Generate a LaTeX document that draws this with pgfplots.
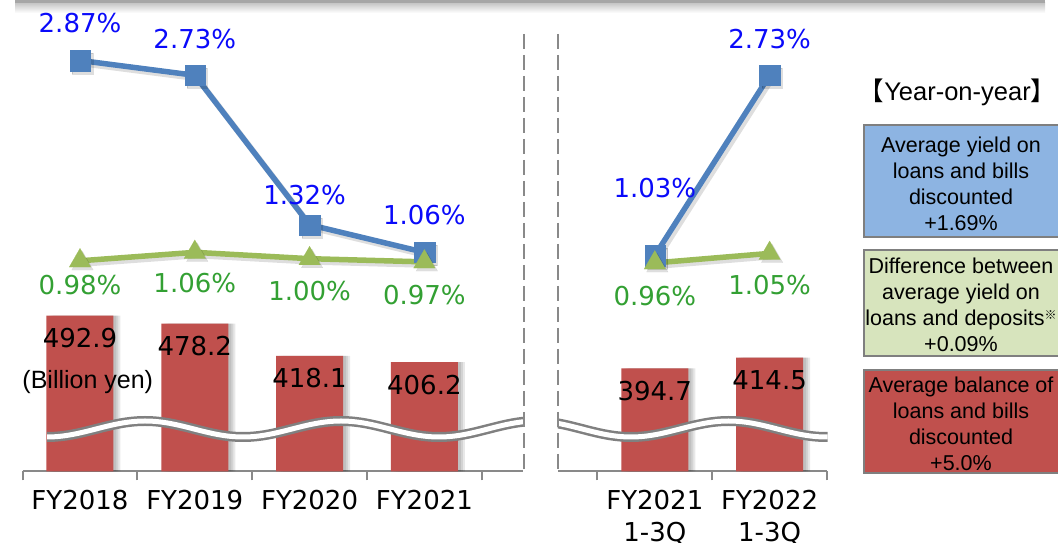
\documentclass[border=0pt]{standalone}
\usepackage{fontspec}
\setmainfont{Liberation Sans}
\newfontfamily\dv{DejaVu Sans}
\newfontfamily\cjk{Noto Sans CJK JP}
\usepackage{pgfplots}
\pgfplotsset{compat=1.18}
\usepackage{pgfplotstable}

\definecolor{barred}{HTML}{C0504D}
\definecolor{lineblue}{HTML}{4F81BD}
\definecolor{linegreen}{HTML}{9BBB59}
\definecolor{labblue}{HTML}{0A0AFA}
\definecolor{labgreen}{HTML}{33A033}
\definecolor{boxblue}{HTML}{8DB4E2}
\definecolor{boxgreen}{HTML}{D7E4BD}
\definecolor{axgray}{HTML}{898989}
\definecolor{wavegray}{HTML}{808080}
\definecolor{boxborder}{HTML}{7F7F7F}

\newcommand\lblfont{\dv\fontsize{26}{32}\selectfont}
\newcommand\boxfont{\fontsize{21.5}{25.8}\selectfont}

\pgfplotstableread{
x val
0 492.9
1 478.2
2 418.1
3 406.2
}\barsL
\pgfplotstableread{
x val
0 394.7
1 414.5
}\barsR
\pgfplotstableread{
x val dx dy
0 2.87 0 37
1 2.73 0 36.7
2 1.32 -5 29.3
3 1.06 0 37.3
}\blueL
\pgfplotstableread{
x val dx dy
0 1.03 0 67
1 2.73 0 36.7
}\blueR
\pgfplotstableread{
x val dx dy
0 0.98 0 -24
1 1.06 0 -31
2 1.00 0 -32
3 0.97 0 -33
}\greenL
\pgfplotstableread{
x val dx dy
0 0.96 0 -33
1 1.05 0 -31.6
}\greenR

\pgfplotsset{
  barpanel/.style={
    scale only axis, anchor=south west, height=438.5pt,
    ymin=202, ymax=1020.7,
    axis x line*=bottom, axis y line=none,
    x axis line style={draw=axgray, line width=2pt},
    major tick length=0pt, minor tick length=9pt,
    xtick align=outside,
    minor tick style={draw=axgray, line width=2pt},
    xticklabel style={font=\lblfont, anchor=north, inner sep=0pt, yshift=-19pt, align=center, text=black},
    ybar, bar width=67pt,
  },
  barlab/.style={
    nodes near coords={\pgfmathprintnumber[fixed,fixed zerofill,precision=1,assume math mode=true]{\pgfplotspointmeta}},
    every node near coord/.append style={font=\lblfont, anchor=center, inner sep=0pt, yshift=-22.5pt, text=black},
  },
  barshadow/.style={fill=black, draw=none, opacity=0.09, bar shift=#1, forget plot},
  linepanel/.style={
    scale only axis, anchor=south west, height=438.5pt,
    ymin=-1.0075, ymax=3.129, hide axis, clip=false,
  },
  pctlab/.style={
    nodes near coords={\pgfmathprintnumber[fixed,fixed zerofill,precision=2,assume math mode=true]{\pgfplotspointmeta}\%},
    point meta=y,
    visualization depends on={\thisrow{dx}\as\labdx},
    visualization depends on={\thisrow{dy}\as\labdy},
    every node near coord/.append style={font=\lblfont, anchor=center, inner sep=0pt, xshift=\labdx pt, yshift=\labdy pt, text=#1},
  },
  blueline/.style={lineblue, line width=5.5pt, mark=square*, mark size=10.2pt, mark options={line width=0.1pt, fill=lineblue, draw=lineblue}},
  greenline/.style={linegreen, line width=5.5pt, mark=triangle*, mark size=12.5pt, mark options={line width=0.1pt, fill=linegreen, draw=linegreen}},
  shadowline/.style={black, opacity=0.13, line width=6pt, xshift=2.5pt, yshift=-3pt, forget plot, mark options={fill=black, draw=black, line width=0.1pt}},
}

\begin{document}
\begin{tikzpicture}
\useasboundingbox (0,0) rectangle (1058pt,543pt);

% top strip (bottom edge of box above)
\begin{scope}[x=1pt,y=1pt]
\shade[top color=gray!45, bottom color=white] (15,530) rectangle (1045,540);
\fill[gray!70] (15,539.5) rectangle (1045,543);
\end{scope}

% ---------- left panel bars
\begin{axis}[barpanel, at={(22.6pt,71.5pt)}, width=500.5pt,
  xmin=-0.5, xmax=3.86,
  xtick={0,1,2,3}, xticklabels={FY2018,FY2019,FY2020,FY2021},
  minor xtick={-0.5,0.5,1.5,2.5,3.5}]
\addplot[barshadow=3pt] table[x=x,y=val]{\barsL};
\addplot[barshadow=5pt] table[x=x,y=val]{\barsL};
\addplot[barshadow=7pt] table[x=x,y=val]{\barsL};
\addplot[fill=barred, draw=none, barlab, bar shift=0pt] table[x=x,y=val]{\barsL};
\end{axis}

% ---------- right panel bars
\begin{axis}[barpanel, at={(558.4pt,71.5pt)}, width=268.6pt,
  xmin=-0.84, xmax=1.5,
  xtick={0,1}, xticklabels={{FY2021\\1-3Q},{FY2022\\1-3Q}},
  minor xtick={-0.5,0.5,1.5}]
\addplot[barshadow=3pt] table[x=x,y=val]{\barsR};
\addplot[barshadow=5pt] table[x=x,y=val]{\barsR};
\addplot[barshadow=7pt] table[x=x,y=val]{\barsR};
\addplot[fill=barred, draw=none, barlab, bar shift=0pt] table[x=x,y=val]{\barsR};
\end{axis}

% ---------- decorations: waves, dashed separators, unit label
\begin{scope}[x=1pt,y=1pt]
  \begin{scope}
    \clip (47,0) rectangle (523.6,543);
    \draw[wavegray, line width=2.5, double=white, double distance=5]
      (47,106) cos (96,114) sin (145,122) cos (194,114) sin (243,106) cos (292,114)
      sin (341,122) cos (390,114) sin (439,106) cos (488,114) sin (537,122);
  \end{scope}
  \begin{scope}
    \clip (557.7,0) rectangle (827.5,543);
    \draw[wavegray, line width=2.5, double=white, double distance=5]
      (533.4,122) cos (582.2,114) sin (631,106) cos (679.8,114) sin (728.6,122)
      cos (777.4,114) sin (826.2,106) cos (875,114);
  \end{scope}
  \draw[axgray, line width=2, dash pattern=on 15 off 6] (523.5,509) -- (523.5,71.5);
  \draw[axgray, line width=2, dash pattern=on 15 off 6] (557.7,509) -- (557.7,71.5);
  \node[font=\fontsize{25}{30}\selectfont, inner sep=0pt, anchor=center] at (87.8,161.3) {(Billion yen)};

  % legend boxes
  \node[font=\fontsize{25.5}{29}\selectfont, inner sep=0pt, anchor=center] at (957.5,450.5) {{\cjk 【}Year-on-year{\cjk 】}};
  \draw[boxborder, line width=2, fill=boxblue] (864,418) rectangle (1064,306.3);
  \node[font=\boxfont, align=center, inner sep=0pt] at (961,359) {Average yield on\\loans and bills\\discounted\\+1.69\%};
  \draw[boxborder, line width=2, fill=boxgreen] (864,293) rectangle (1064,187);
  \node[font=\boxfont, align=center, inner sep=0pt] at (961,238) {Difference between\\average yield on\\loans and deposits{\cjk\fontsize{12}{12}\selectfont\raisebox{6pt}{※}}\\+0.09\%};
  \draw[boxborder, line width=2, fill=barred] (864,173) rectangle (1064,70.3);
  \node[font=\boxfont, align=center, inner sep=0pt] at (961,119) {Average balance of\\loans and bills\\discounted\\+5.0\%};
\end{scope}

% ---------- left panel lines
\begin{axis}[linepanel, at={(22.6pt,71.5pt)}, width=500.5pt, xmin=-0.5, xmax=3.86]
\addplot[shadowline, mark=square*, mark size=10.2pt] table[x=x,y=val]{\blueL};
\addplot[blueline, pctlab=labblue] table[x=x,y=val]{\blueL};
\addplot[shadowline, mark=triangle*, mark size=12.5pt] table[x=x,y=val]{\greenL};
\addplot[greenline, pctlab=labgreen] table[x=x,y=val]{\greenL};
\end{axis}

% ---------- right panel lines
\begin{axis}[linepanel, at={(558.4pt,71.5pt)}, width=268.6pt, xmin=-0.84, xmax=1.5]
\addplot[shadowline, mark=square*, mark size=10.2pt] table[x=x,y=val]{\blueR};
\addplot[blueline, pctlab=labblue] table[x=x,y=val]{\blueR};
\addplot[shadowline, mark=triangle*, mark size=12.5pt] table[x=x,y=val]{\greenR};
\addplot[greenline, pctlab=labgreen] table[x=x,y=val]{\greenR};
\end{axis}
\end{tikzpicture}
\end{document}
